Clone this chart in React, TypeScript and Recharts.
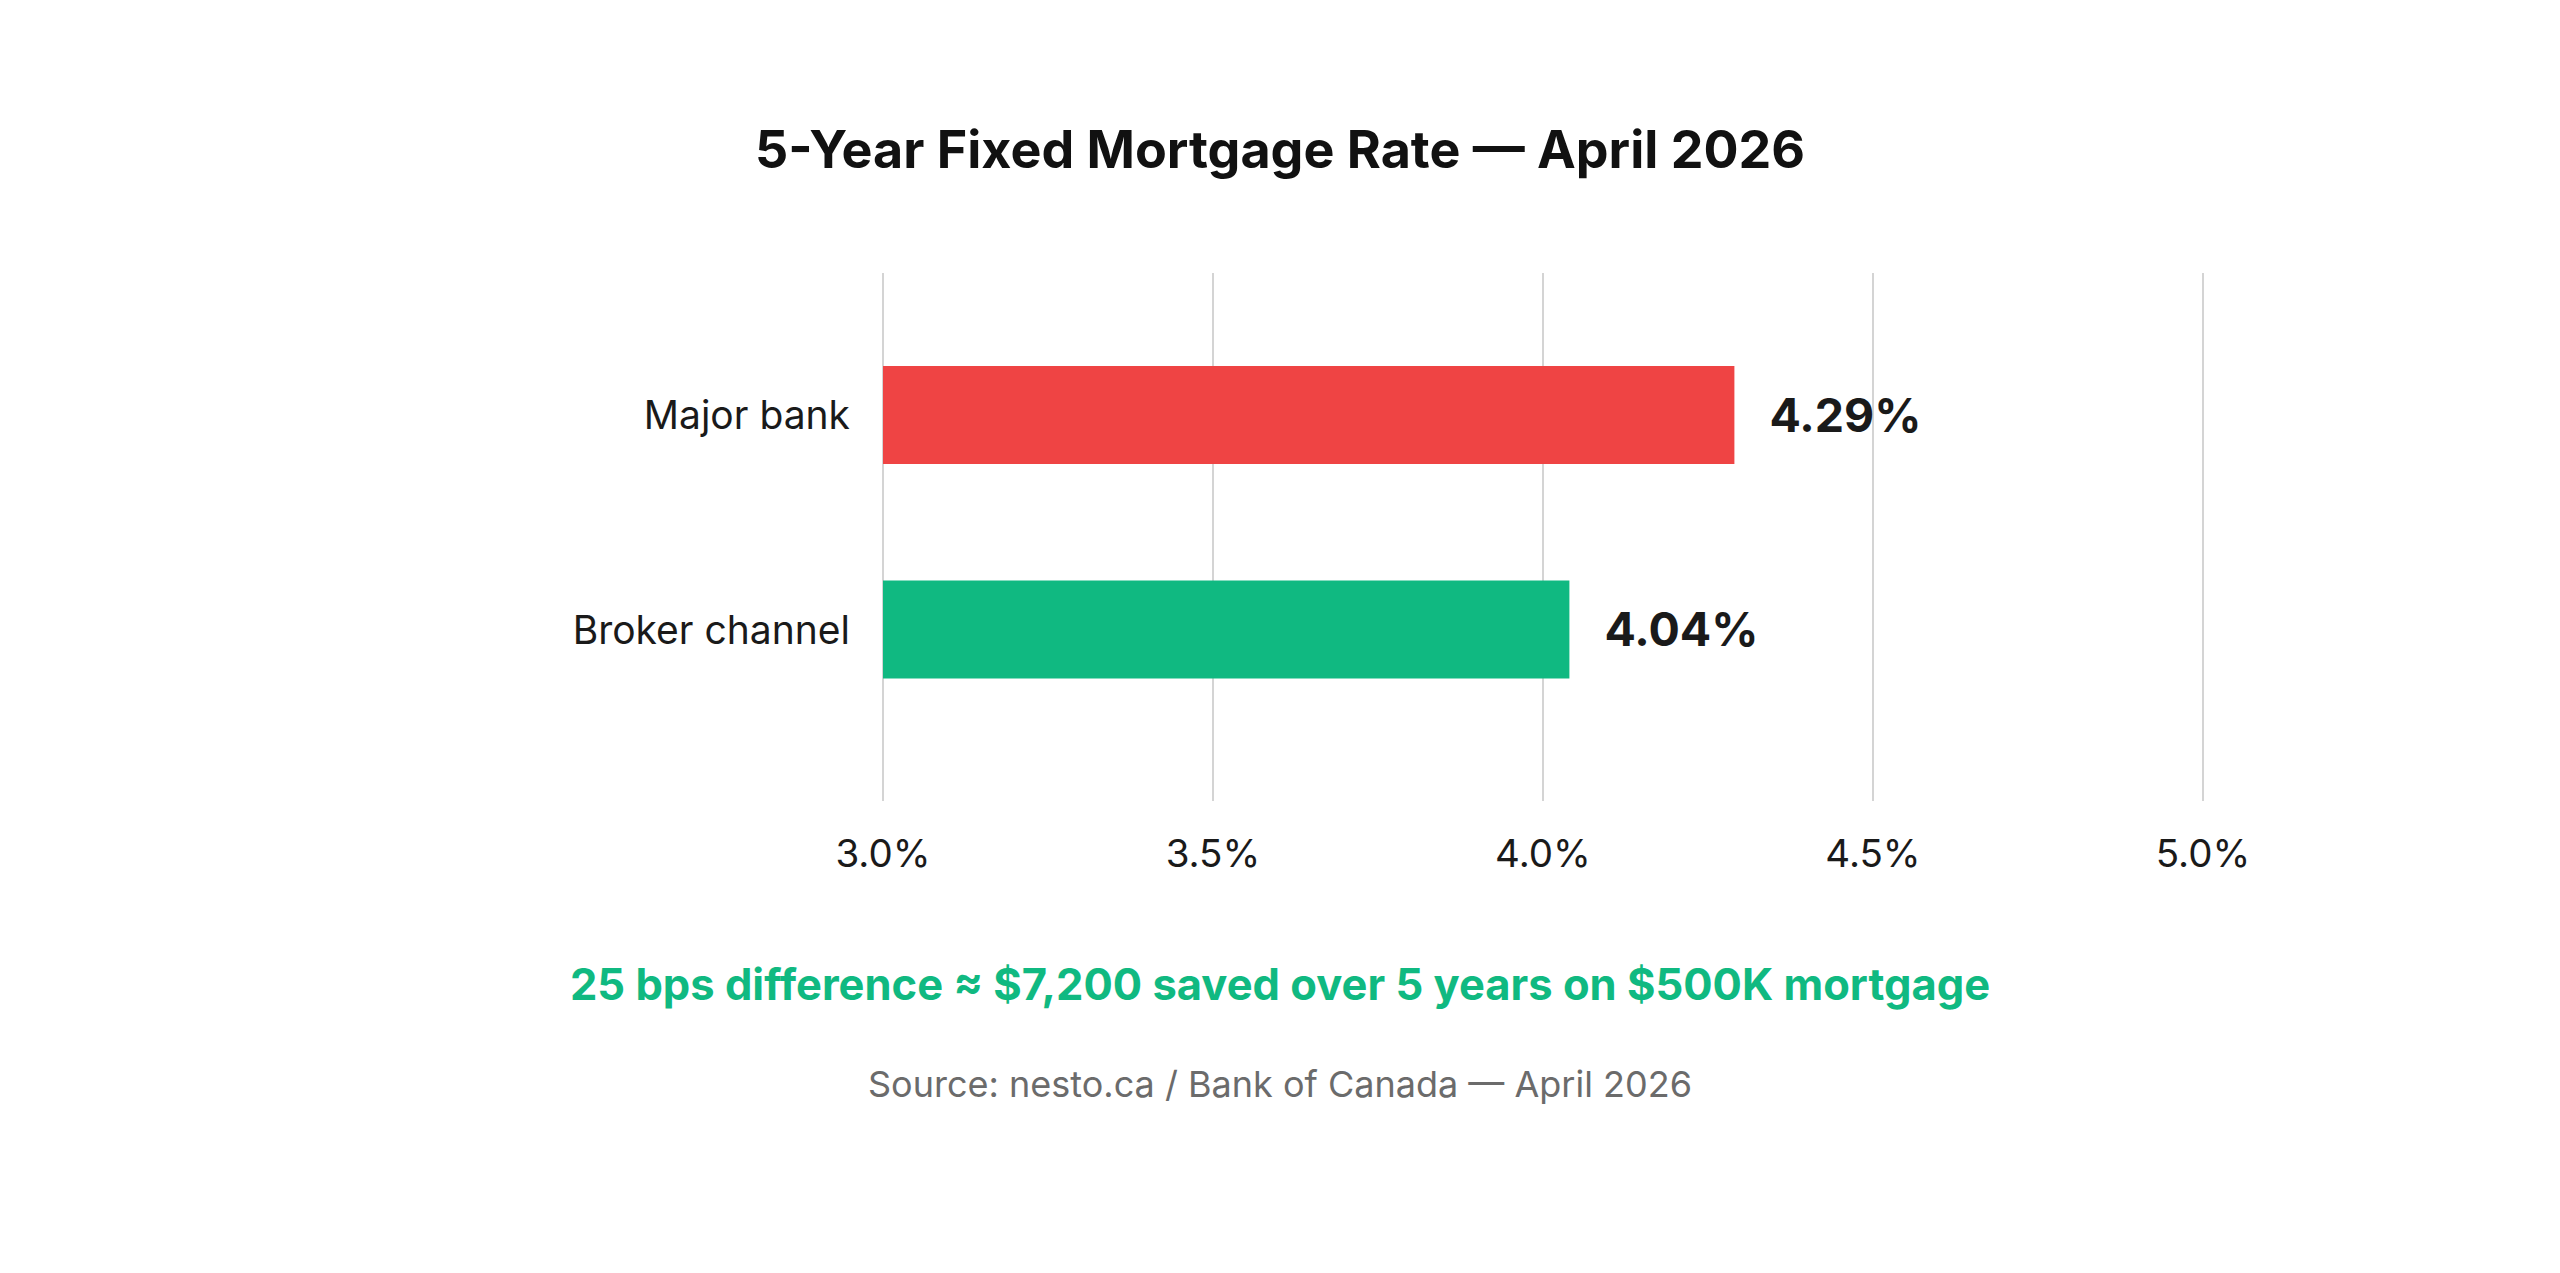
import { BarChart, Bar, XAxis, YAxis, CartesianGrid, Cell, LabelList } from 'recharts';

const categories = ['Major bank', 'Broker channel'];
const rates = [4.29, 4.04];
const barColors = ['#EF4444', '#10B981'];
const xTicks = [3.0, 3.5, 4.0, 4.5, 5.0];

const titleText = '5-Year Fixed Mortgage Rate — April 2026';
const noteText = '25 bps difference ≈ $7,200 saved over 5 years on $500K mortgage';
const sourceText = 'Source: nesto.ca / Bank of Canada — April 2026';

const data = categories.map((name, i) => ({ name, rate: rates[i] }));

const FONT = 'Inter, "Noto Sans", sans-serif';

export default function App() {
    return (
        <div style={{ position: 'absolute', left: 0, top: 0, width: 2560, height: 1273, background: '#fff', fontFamily: FONT }}>
            <BarChart
                width={2560}
                height={1273}
                data={data}
                layout="vertical"
                margin={{ top: 273, right: 357, left: 583, bottom: 412 }}
            >
                <CartesianGrid horizontal={false} stroke="#d4d4d4" strokeWidth={2} />
                <XAxis
                    type="number"
                    domain={[3, 5]}
                    ticks={xTicks}
                    tickFormatter={(v: number) => v.toFixed(1) + '%'}
                    axisLine={false}
                    tickLine={false}
                    tickMargin={33}
                    height={60}
                    tick={{ fill: '#1a1a1a', fontSize: 38.5, fontFamily: FONT }}
                    allowDataOverflow
                />
                <YAxis
                    type="category"
                    dataKey="name"
                    width={300}
                    axisLine={false}
                    tickLine={false}
                    tickMargin={27}
                    padding={{ top: 35, bottom: 64 }}
                    tick={{ fill: '#1a1a1a', fontSize: 39, fontFamily: FONT }}
                />
                <Bar dataKey="rate" barSize={98} isAnimationActive={false}>
                    {data.map((entry, index) => (
                        <Cell key={`cell-${index}`} fill={barColors[index]} />
                    ))}
                    <LabelList
                        dataKey="rate"
                        position="right"
                        offset={35}
                        formatter={(v: any) => Number(v).toFixed(2) + '%'}
                        style={{ fill: '#1a1a1a', fontSize: 46.5, fontWeight: 700, fontFamily: FONT }}
                    />
                </Bar>
            </BarChart>
            <svg width={2560} height={1273} style={{ position: 'absolute', left: 0, top: 0, pointerEvents: 'none' }}>
                <text x={1280} y={168} textAnchor="middle" fontSize={52} fontWeight={700} fill="#111" fontFamily={FONT}>
                    {titleText}
                </text>
                <text x={1280} y={1000} textAnchor="middle" fontSize={43.5} fontWeight={700} fill="#10B981" fontFamily={FONT}>
                    {noteText}
                </text>
                <text x={1280} y={1097} textAnchor="middle" fontSize={36} fill="#6b6b6b" fontFamily={FONT}>
                    {sourceText}
                </text>
            </svg>
        </div>
    );
}
